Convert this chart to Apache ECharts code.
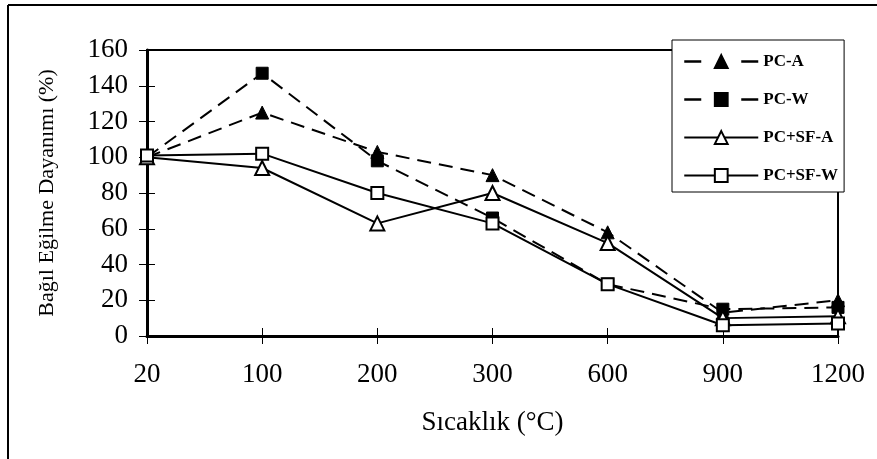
<!DOCTYPE html>
<html>
<head>
<meta charset="utf-8">
<script src="https://cdn.jsdelivr.net/npm/echarts@6/dist/echarts.min.js"></script>
<style>
html,body{margin:0;padding:0;background:#fff;}
#chart{width:877px;height:459px;}
</style>
</head>
<body>
<div id="chart"></div>
<script>
var categories = ['20', '100', '200', '300', '600', '900', '1200'];
var seriesNames = ['PC-A', 'PC-W', 'PC+SF-A', 'PC+SF-W'];
var pcA = [100, 125, 103, 90, 58, 13, 20];
var pcW = [100, 147, 98, 66, 29, 15, 16];
var pcsfA = [100, 94, 63, 80, 52, 10, 11];
var pcsfW = [101, 102, 80, 63, 29, 6, 7];
var yTicks = {min: 0, max: 160, interval: 20};
var xTitle = 'Sıcaklık (°C)';
var yTitle = 'Bağıl Eğilme Dayanımı (%)';

var serif = '"Liberation Serif", "Times New Roman", serif';
var chart = echarts.init(document.getElementById('chart'), null, {renderer: 'canvas'});

function mk(name, data, dashed, symbol, filled, size) {
  return {
    name: name,
    type: 'line',
    data: data,
    symbol: symbol,
    symbolSize: size,
    showAllSymbol: true,
    animation: false,
    lineStyle: {color: '#000', width: 2, type: dashed ? [14, 8] : 'solid'},
    itemStyle: filled ? {color: '#000', borderColor: '#000', borderWidth: 1}
                      : {color: '#fff', borderColor: '#000', borderWidth: 2},
    emphasis: {disabled: true}
  };
}

var legendDash = {color: '#000', width: 2.5, type: [17, 40]};
var legendSolid = {color: '#000', width: 2, type: 'solid'};

var option = {
  backgroundColor: '#fff',
  animation: false,
  grid: {left: 147, right: 39, top: 50, bottom: 123, show: true, borderColor: '#000', borderWidth: 2, backgroundColor: 'transparent'},
  legend: {
    orient: 'vertical',
    left: 672,
    top: 40,
    padding: [13, 6, 8, 11],
    itemWidth: 74,
    itemHeight: 16,
    itemGap: 21,
    backgroundColor: '#fff',
    borderColor: '#000',
    borderWidth: 1,
    selectedMode: false,
    textStyle: {fontFamily: serif, fontWeight: 'bold', fontSize: 17, color: '#000'},
    data: [
      {name: seriesNames[0], lineStyle: legendDash},
      {name: seriesNames[1], lineStyle: legendDash},
      {name: seriesNames[2], lineStyle: legendSolid},
      {name: seriesNames[3], lineStyle: legendSolid}
    ]
  },
  xAxis: [{
    type: 'category',
    data: categories,
    boundaryGap: false,
    position: 'bottom',
    axisLine: {lineStyle: {color: '#000', width: 3}},
    axisTick: {show: true, inside: false, length: 8, lineStyle: {color: '#000', width: 1}},
    axisLabel: {fontFamily: serif, fontSize: 27, color: '#000', margin: 25},
    name: xTitle,
    nameLocation: 'middle',
    nameGap: 73,
    nameTextStyle: {fontFamily: serif, fontSize: 27, color: '#000'},
    splitLine: {show: false}
  }, {
    type: 'category',
    data: categories,
    boundaryGap: false,
    position: 'bottom',
    axisLine: {show: false},
    axisTick: {show: true, inside: true, length: 8, lineStyle: {color: '#000', width: 1}},
    axisLabel: {show: false},
    splitLine: {show: false}
  }],
  yAxis: [{
    type: 'value',
    min: yTicks.min,
    max: yTicks.max,
    interval: yTicks.interval,
    position: 'left',
    axisLine: {show: true, lineStyle: {color: '#000', width: 3}},
    axisTick: {show: true, inside: false, length: 8, lineStyle: {color: '#000', width: 1}},
    axisLabel: {fontFamily: serif, fontSize: 27, color: '#000', margin: 19},
    splitLine: {show: false},
    name: yTitle,
    nameLocation: 'middle',
    nameRotate: 90,
    nameGap: 89,
    nameTextStyle: {fontFamily: serif, fontSize: 22, color: '#000'}
  }, {
    type: 'value',
    min: yTicks.min,
    max: yTicks.max,
    interval: yTicks.interval,
    position: 'left',
    axisLine: {show: false},
    axisTick: {show: true, inside: true, length: 8, lineStyle: {color: '#000', width: 1}},
    axisLabel: {show: false},
    splitLine: {show: false}
  }],
  graphic: [
    {type: 'line', shape: {x1: 8, y1: 5, x2: 877, y2: 5}, style: {stroke: '#000', lineWidth: 2}, silent: true},
    {type: 'line', shape: {x1: 8, y1: 5, x2: 8, y2: 459}, style: {stroke: '#000', lineWidth: 2}, silent: true}
  ],
  series: [
    mk(seriesNames[0], pcA, true, 'triangle', true, 13),
    mk(seriesNames[1], pcW, true, 'rect', true, 12),
    mk(seriesNames[2], pcsfA, false, 'triangle', false, 14),
    mk(seriesNames[3], pcsfW, false, 'rect', false, 12)
  ]
};
chart.setOption(option);
</script>
</body>
</html>
